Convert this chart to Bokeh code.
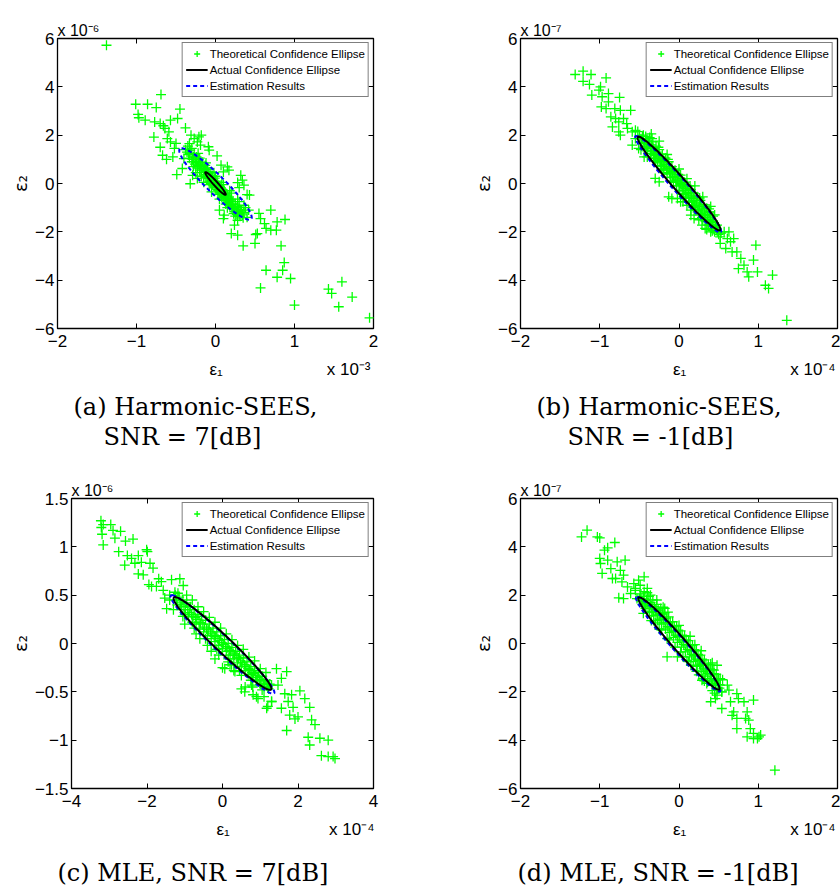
import numpy as np
from bokeh.plotting import figure
from bokeh.models import LinearAxis, FixedTicker, Legend, LegendItem, Range1d, Title
from bokeh.layouts import column, row
from bokeh.embed import file_html
from bokeh.resources import INLINE

# ---------------- data (eps1 in units of the x multiplier, eps2 in units of the y multiplier) ----------------
A_TAIL = [(-1.38,5.72),(-0.69,3.68),(-1.01,3.28),(-0.86,3.28),(-0.75,3.14),(-0.98,2.86),(-0.97,2.72),(-0.89,2.62),
          (-0.77,2.55),(-0.70,2.48),(-0.66,2.39),(-0.64,2.28),(-0.59,2.14),(-0.45,3.08),(-0.48,2.69),(-0.57,2.62),
          (-0.38,2.30),(-0.78,1.92),(-0.61,1.86),(-0.57,1.72),(-0.70,1.50),(-0.67,1.17),(-0.62,1.00),(-0.54,1.10),
          (-0.52,1.45),(-0.50,1.66),(-0.31,2.00),(-0.27,1.86),(-0.21,1.93),(-0.18,2.00),(-0.23,1.72),(-0.19,1.59),
          (-0.09,1.52),(-0.08,1.38),(-0.40,1.03),(-0.42,0.62),(-0.49,0.37),(-0.32,-0.01),(-0.29,0.34),(-0.23,0.21),
          (0.02,1.14),(0.07,0.76),(0.15,0.69),(0.17,0.55),(0.10,0.48),(0.32,0.34),(0.34,0.14),(0.28,0.04),
          (0.30,-0.17),(0.36,-0.07),(0.40,-0.46),(0.43,-0.48),(0.36,-0.90),(0.31,-1.17),(0.05,-1.10),(0.10,-1.45),
          (0.11,-1.31),(0.24,-1.17),(0.28,-1.52),(0.24,-1.72),(0.20,-2.07),(0.28,-2.14),(0.35,-2.58),(0.51,-2.11),
          (0.50,-2.48),(0.53,-2.07),(0.55,-1.24),(0.57,-1.45),(0.62,-1.66),(0.64,-1.86),(0.70,-1.10),(0.78,-1.59),
          (0.70,-1.93),(0.77,-1.93),(0.88,-1.49),(0.83,-2.58),(0.87,-3.27),(0.85,-3.59),(0.64,-3.59),(0.78,-3.88),
          (0.95,-3.93),(0.57,-4.32),(1.00,-5.03),(1.43,-4.37),(1.47,-4.55),(1.60,-4.07),(1.73,-4.70),(1.56,-5.10),
          (1.95,-5.56)]
A_CORE = [(-0.36,1.30),(-0.33,1.05),(-0.31,1.25),(-0.30,0.90),(-0.28,1.10),(-0.26,0.80),(-0.25,1.00),(-0.23,0.65),
          (-0.22,0.90),(-0.20,0.55),(-0.19,0.80),(-0.18,0.45),(-0.16,0.70),(-0.15,0.35),(-0.14,0.60),(-0.12,0.25),
          (-0.11,0.50),(-0.10,0.20),(-0.09,0.42),(-0.08,0.10),(-0.07,0.30),(-0.06,0.00),(-0.05,0.22),(-0.04,-0.05),
          (-0.03,0.15),(-0.02,-0.10),(-0.01,0.08),(0.00,-0.15),(0.01,0.02),(0.02,-0.25),(0.03,-0.05),(0.04,-0.30),
          (0.05,-0.10),(0.06,-0.38),(0.07,-0.18),(0.08,-0.45),(0.09,-0.25),(0.10,-0.55),(0.11,-0.30),(0.12,-0.60),
          (0.13,-0.40),(0.14,-0.70),(0.15,-0.48),(0.16,-0.78),(0.17,-0.55),(0.18,-0.85),(0.20,-0.65),(0.21,-0.95),
          (0.22,-0.75),(0.24,-1.05),(0.25,-0.85),(0.27,-1.15),(0.28,-0.95),(0.30,-1.25),(0.32,-1.10),(0.34,-1.30),
          (0.36,-1.20),(-0.20,1.05),(-0.10,0.65),(0.00,0.30),(0.10,-0.05),(0.20,-0.40),(-0.15,0.05),(-0.05,-0.35),
          (0.05,-0.65),(0.15,-1.00),(0.25,-1.35),(-0.25,0.45),(0.30,-0.75),(-0.30,1.45),(-0.35,1.55),(0.40,-1.40),
          (0.42,-1.10),
          (-0.38,1.40),(-0.34,1.20),(-0.32,1.38),(-0.29,1.00),(-0.27,1.22),(-0.24,0.88),(-0.24,1.10),(-0.21,0.75),
          (-0.21,0.98),(-0.18,0.62),(-0.17,0.88),(-0.15,0.52),(-0.13,0.75),(-0.12,0.38),(-0.10,0.58),(-0.08,0.28),
          (-0.07,0.48),(-0.05,0.10),(-0.04,0.32),(-0.02,0.02),(-0.01,0.22),(0.01,-0.12),(0.02,0.10),(0.04,-0.18),
          (0.05,-0.40),(0.07,-0.30),(0.08,-0.58),(0.10,-0.42),(0.12,-0.70),(0.13,-0.52),(0.15,-0.80),(0.16,-0.62),
          (0.18,-0.92),(0.19,-0.72),(0.21,-1.05),(0.22,-0.85),(0.24,-1.15),(0.26,-1.00),(0.27,-1.28),(0.29,-1.08),
          (0.31,-1.35),(0.33,-1.22),(0.35,-1.42),(-0.28,0.70),(-0.18,0.30),(-0.08,-0.05),(0.03,-0.45),(0.13,-0.85),
          (0.23,-1.25),(-0.33,1.65),(-0.22,1.25),(-0.12,0.85),(-0.02,0.45),(0.08,0.05),(0.18,-0.30),(0.28,-0.65),
          (0.38,-1.00)]

B_TAIL = [(-1.31,4.51),(-1.21,4.65),(-1.11,4.51),(-1.21,4.23),(-1.13,4.10),(-0.99,4.00),(-0.92,4.37),(-1.01,3.86),
          (-1.10,3.66),(-0.97,3.59),(-0.89,3.72),(-0.98,3.17),(-0.92,3.10),(-0.89,3.38),(-0.75,3.56),(-0.81,3.10),
          (-0.74,3.03),(-0.61,3.03),(-0.86,2.76),(-0.80,2.69),(-0.76,2.55),(-0.70,2.69),(-0.66,2.48),(-0.84,2.34),
          (-0.76,2.14),(-0.65,2.28),(-0.59,2.14),(-0.74,2.00),(-0.55,1.86),(-0.59,1.59),(-0.51,1.45),(-0.44,1.10),
          (-0.46,1.86),(-0.34,1.86),(-0.40,1.45),(-0.32,1.03),(-0.30,0.21),(-0.25,0.07),(-0.13,-0.55),(-0.09,-0.62),
          (-0.02,-0.62),(0.02,-0.76),(0.10,-0.90),(0.27,-1.31),(0.36,-1.52),(0.42,-1.59),(0.48,-1.72),(0.52,-2.21),
          (0.57,-2.00),(0.61,-2.28),(0.65,-2.41),(0.69,-2.28),(0.67,-2.83),(0.73,-2.83),(0.78,-3.10),(0.75,-3.52),
          (0.82,-3.38),(0.86,-3.66),(0.88,-3.86),(0.94,-3.17),(0.97,-2.55),(0.99,-3.66),(1.09,-4.21),(1.13,-4.34),
          (1.18,-3.79),(1.36,-5.66),(0.59,-2.69),(0.52,-2.48),(0.63,-2.00),(0.40,-2.00),(0.33,-1.86),(0.29,-1.72),
          (0.19,-1.45),(0.15,-1.31)]
B_CORE = [(-0.50,1.95),(-0.47,1.70),(-0.45,2.00),(-0.44,1.55),(-0.42,1.80),(-0.40,1.35),(-0.39,1.62),(-0.37,1.90),
          (-0.36,1.25),(-0.34,1.50),(-0.33,1.72),(-0.31,1.05),(-0.30,1.30),(-0.29,1.55),(-0.27,0.85),(-0.26,1.15),
          (-0.25,1.40),(-0.23,0.75),(-0.22,1.00),(-0.21,1.22),(-0.19,0.55),(-0.18,0.80),(-0.17,1.05),(-0.15,0.40),
          (-0.14,0.65),(-0.13,0.90),(-0.11,0.25),(-0.10,0.50),(-0.09,0.70),(-0.07,0.05),(-0.06,0.30),(-0.05,0.55),
          (-0.03,-0.10),(-0.02,0.15),(-0.01,0.38),(0.01,-0.30),(0.02,0.00),(0.03,0.20),(0.05,-0.45),(0.06,-0.15),
          (0.07,0.05),(0.09,-0.60),(0.10,-0.30),(0.11,-0.10),(0.13,-0.78),(0.14,-0.48),(0.15,-0.25),(0.17,-0.92),
          (0.18,-0.62),(0.19,-0.40),(0.21,-1.08),(0.22,-0.80),(0.23,-0.55),(0.25,-1.25),(0.26,-0.95),(0.27,-0.70),
          (0.29,-1.40),(0.30,-1.10),(0.31,-0.88),(0.33,-1.55),(0.34,-1.28),(0.35,-1.02),(0.37,-1.72),(0.38,-1.42),
          (0.39,-1.18),(0.41,-1.85),(0.42,-1.58),(0.43,-1.35),(0.45,-2.00),(0.46,-1.75),(0.48,-1.95),(0.50,-2.10),
          (-0.52,2.15),(-0.55,2.20),(0.53,-2.05),(-0.30,0.95),(-0.20,0.45),(0.05,-0.75),(0.15,-1.10),(0.25,-1.50),
          (0.35,-1.90),(-0.15,1.20),(0.00,0.60),(0.10,0.20),(0.20,-0.10),(-0.40,1.10),(-0.48,1.40),(0.30,-0.55),
          (0.40,-0.95),(0.45,-1.30),(-0.35,2.05),(-0.25,1.75),
          (-0.48,1.85),(-0.46,1.95),(-0.43,1.65),(-0.41,1.55),(-0.38,1.50),(-0.38,1.75),(-0.35,1.35),(-0.35,1.60),
          (-0.32,1.20),(-0.32,1.45),(-0.28,1.05),(-0.28,1.30),(-0.24,0.90),(-0.24,1.10),(-0.20,0.70),(-0.20,0.95),
          (-0.16,0.55),(-0.16,0.78),(-0.12,0.40),(-0.12,0.62),(-0.08,0.25),(-0.08,0.45),(-0.04,0.10),(-0.04,0.28),
          (0.00,-0.10),(0.00,0.12),(0.04,-0.28),(0.04,-0.05),(0.08,-0.42),(0.08,-0.20),(0.12,-0.60),(0.12,-0.38),
          (0.16,-0.75),(0.16,-0.52),(0.20,-0.92),(0.20,-0.70),(0.24,-1.10),(0.24,-0.85),(0.28,-1.25),(0.28,-1.02),
          (0.32,-1.40),(0.32,-1.18),(0.36,-1.58),(0.36,-1.32),(0.40,-1.72),(0.40,-1.50),(0.44,-1.88),(0.44,-1.62),
          (0.47,-1.82),(0.49,-2.00),(-0.30,1.15),(-0.22,0.60),(-0.10,0.10),(0.06,-0.55),(0.18,-1.00),(0.30,-1.50),
          (0.42,-1.95),(-0.42,1.95),(-0.26,1.50),(-0.14,1.00),(0.02,0.35),(0.14,-0.10),(0.26,-0.60),(0.38,-1.05)]

C_TAIL = [(-3.22,1.27),(-3.16,1.23),(-3.21,1.20),(-3.19,1.13),(-3.16,1.02),(-2.96,1.23),(-2.90,1.17),(-2.70,1.16),
          (-2.85,1.09),(-2.57,1.06),(-2.37,1.08),(-2.75,0.95),(-2.52,0.91),(-2.41,0.88),(-2.23,0.91),(-2.32,0.83),
          (-2.59,0.81),(-2.01,0.97),(-1.99,0.95),(-2.15,0.84),(-1.92,0.83),(-1.84,0.78),(-2.23,0.72),(-2.10,0.71),
          (-1.95,0.61),(-1.88,0.59),(-1.69,0.67),(-1.62,0.64),(-1.75,0.59),(-1.57,0.55),(-1.35,0.66),(-1.13,0.67),
          (-1.04,0.60),(-1.53,0.47),(-1.40,0.50),(-1.26,0.53),(-1.48,0.36),(1.43,-0.26),(1.56,-0.36),(1.70,-0.29),
          (1.30,-0.43),(1.47,-0.43),(1.65,-0.52),(1.83,-0.53),(2.05,-0.49),(2.18,-0.57),(1.74,-0.60),(1.87,-0.66),
          (1.78,-0.74),(2.00,-0.76),(1.92,-0.78),(1.56,-0.67),(1.70,-0.90),(2.31,-0.66),(2.36,-0.79),(2.45,-0.84),
          (2.27,-0.97),(2.31,-1.05),(2.58,-0.98),(2.80,-1.00),(2.62,-1.16),(2.80,-1.17),(2.98,-1.19),(2.93,-1.17),
          (0.94,-0.57),(1.17,-0.67),(1.30,-0.60),(0.81,-0.53),(0.59,-0.50),(0.50,-0.47),(0.77,-0.43),(0.33,-0.29),
          (0.24,-0.22),(0.15,-0.19),(-0.20,-0.16),(0.06,-0.26)]
C_CORE = [(-1.25,0.50),(-1.20,0.40),(-1.15,0.48),(-1.10,0.35),(-1.05,0.45),(-1.00,0.30),(-0.95,0.42),(-0.90,0.28),
          (-0.85,0.38),(-0.80,0.22),(-0.75,0.35),(-0.70,0.20),(-0.65,0.30),(-0.60,0.15),(-0.55,0.28),(-0.50,0.12),
          (-0.45,0.24),(-0.40,0.08),(-0.35,0.20),(-0.30,0.05),(-0.25,0.16),(-0.20,0.02),(-0.15,0.12),(-0.10,-0.02),
          (-0.05,0.08),(0.00,-0.05),(0.05,0.04),(0.10,-0.08),(0.15,0.00),(0.20,-0.12),(0.25,-0.04),(0.30,-0.16),
          (0.35,-0.08),(0.40,-0.20),(0.45,-0.12),(0.50,-0.24),(0.55,-0.15),(0.60,-0.28),(0.65,-0.19),(0.70,-0.32),
          (0.75,-0.24),(0.80,-0.35),(0.85,-0.28),(0.90,-0.38),(0.95,-0.30),(1.00,-0.42),(1.05,-0.34),(1.10,-0.45),
          (1.15,-0.38),(1.20,-0.46),(1.25,-0.42),(-1.00,0.20),(-0.70,0.10),(-0.40,-0.02),(-0.10,-0.12),(0.20,-0.22),
          (0.50,-0.33),(0.80,-0.45),(1.10,-0.55),(-0.80,0.45),(-0.50,0.33),(-0.20,0.22),(0.10,0.10),(0.40,-0.02),
          (0.70,-0.14),(1.00,-0.26),(-1.30,0.35),(-0.60,0.05),(0.00,-0.25),(0.60,-0.45),(1.30,-0.60),(-1.40,0.45),
          (0.30,-0.28),(-0.30,-0.08),(0.90,-0.55),(1.20,-0.65),
          (-1.22,0.45),(-1.18,0.52),(-1.12,0.42),(-1.08,0.40),(-1.02,0.38),(-0.98,0.35),(-0.92,0.35),(-0.88,0.32),
          (-0.82,0.30),(-0.78,0.28),(-0.72,0.27),(-0.68,0.25),(-0.62,0.22),(-0.58,0.21),(-0.52,0.20),(-0.48,0.17),
          (-0.42,0.15),(-0.38,0.14),(-0.32,0.12),(-0.28,0.10),(-0.22,0.08),(-0.18,0.07),(-0.12,0.05),(-0.08,0.03),
          (-0.02,0.01),(0.02,-0.01),(0.08,-0.03),(0.12,-0.05),(0.18,-0.07),(0.22,-0.08),(0.28,-0.10),(0.32,-0.12),
          (0.38,-0.14),(0.42,-0.15),(0.48,-0.18),(0.52,-0.20),(0.58,-0.22),(0.62,-0.24),(0.68,-0.26),(0.72,-0.27),
          (0.78,-0.30),(0.82,-0.31),(0.88,-0.33),(0.92,-0.35),(0.98,-0.37),(1.02,-0.39),(1.08,-0.41),(1.12,-0.42),
          (1.18,-0.44),(1.22,-0.47),(-1.05,0.28),(-0.75,0.16),(-0.45,0.05),(-0.15,-0.06),(0.15,-0.16),(0.45,-0.28),
          (0.75,-0.38),(1.05,-0.48),(-0.95,0.50),(-0.65,0.38),(-0.35,0.27),(-0.05,0.16),(0.25,0.04),(0.55,-0.06),
          (0.85,-0.18),(1.15,-0.30)]

D_TAIL = [(-1.23,4.41),(-1.16,4.69),(-1.03,4.41),(-1.00,4.37),(-0.90,3.96),(-0.81,4.18),(-0.94,3.86),(-1.00,3.52),
          (-0.99,3.31),(-0.90,3.45),(-0.78,3.38),(-0.68,3.45),(-0.97,2.90),(-0.86,3.10),(-0.84,2.69),(-0.74,3.03),
          (-0.70,2.83),(-0.80,2.69),(-0.72,2.55),(-0.65,2.34),(-0.57,2.48),(-0.55,2.28),(-0.51,2.62),(-0.44,2.76),
          (-0.49,2.41),(-0.61,2.07),(-0.76,1.89),(-0.70,1.86),(-0.40,2.28),(-0.36,2.00),(-0.53,1.86),(-0.44,1.66),
          (-0.42,1.45),(-0.34,1.31),(-0.23,1.24),(-0.18,1.45),(-0.15,-0.55),(-0.02,-0.55),(0.19,-0.48),(0.27,-0.90),
          (0.33,-1.17),(0.44,-1.10),(0.48,-0.90),(0.50,-1.45),(0.52,-1.72),(0.61,-1.72),(0.63,-1.93),(0.54,-2.00),
          (0.48,-2.14),(0.40,-2.41),(0.46,-2.28),(0.54,-2.69),(0.65,-2.41),(0.73,-2.07),(0.75,-2.28),(0.67,-2.97),
          (0.73,-3.10),(0.69,-2.83),(0.73,-3.52),(0.82,-2.41),(0.86,-2.83),(0.84,-3.10),(0.88,-3.17),(0.94,-2.34),
          (0.90,-3.52),(0.86,-3.86),(0.94,-3.72),(1.01,-3.86),(1.03,-3.79),(0.99,-3.93),(0.94,-3.93),(1.21,-5.24),
          (0.29,-1.52),(0.36,-1.59),(0.42,-1.72)]
D_CORE = [(-0.50,1.85),(-0.48,2.05),(-0.46,1.60),(-0.44,1.85),(-0.42,1.45),(-0.40,1.70),(-0.38,1.95),(-0.37,1.30),
          (-0.35,1.55),(-0.33,1.80),(-0.32,1.15),(-0.30,1.40),(-0.28,1.62),(-0.27,0.95),(-0.25,1.20),(-0.23,1.45),
          (-0.22,0.80),(-0.20,1.05),(-0.18,1.28),(-0.17,0.60),(-0.15,0.85),(-0.13,1.10),(-0.12,0.45),(-0.10,0.68),
          (-0.08,0.90),(-0.07,0.25),(-0.05,0.50),(-0.03,0.72),(-0.02,0.05),(0.00,0.30),(0.02,0.52),(0.03,-0.15),
          (0.05,0.10),(0.07,0.32),(0.08,-0.35),(0.10,-0.10),(0.12,0.12),(0.13,-0.55),(0.15,-0.30),(0.17,-0.08),
          (0.18,-0.75),(0.20,-0.50),(0.22,-0.28),(0.23,-0.95),(0.25,-0.70),(0.27,-0.48),(0.28,-1.15),(0.30,-0.90),
          (0.32,-0.68),(0.33,-1.35),(0.35,-1.10),(0.37,-0.88),(0.38,-1.55),(0.40,-1.30),(0.42,-1.08),(0.43,-1.72),
          (0.45,-1.50),(0.47,-1.28),(0.48,-1.90),(0.50,-1.70),(0.52,-1.45),(0.54,-2.00),(-0.45,1.25),(-0.35,0.95),
          (-0.25,0.60),(-0.15,0.20),(-0.05,-0.15),(0.05,-0.55),(0.15,-0.90),(0.25,-1.30),(0.35,-1.65),(0.45,-2.05),
          (-0.40,2.10),(-0.20,1.50),(0.00,0.75),(0.20,-0.05),(0.40,-0.85),(0.55,-1.50),(-0.55,2.20),(0.10,-0.70),
          (-0.30,0.85),(0.30,-1.45),
          (-0.49,1.95),(-0.47,1.75),(-0.45,1.95),(-0.43,1.55),(-0.41,1.80),(-0.39,1.45),(-0.36,1.70),(-0.34,1.30),
          (-0.31,1.52),(-0.29,1.15),(-0.26,1.38),(-0.24,1.00),(-0.21,1.22),(-0.19,0.85),(-0.16,1.05),(-0.14,0.70),
          (-0.11,0.90),(-0.09,0.52),(-0.06,0.72),(-0.04,0.35),(-0.01,0.55),(0.01,0.15),(0.04,0.35),(0.06,-0.05),
          (0.09,0.15),(0.11,-0.25),(0.14,-0.05),(0.16,-0.45),(0.19,-0.25),(0.21,-0.65),(0.24,-0.45),(0.26,-0.85),
          (0.29,-0.65),(0.31,-1.05),(0.34,-0.85),(0.36,-1.25),(0.39,-1.05),(0.41,-1.45),(0.44,-1.25),(0.46,-1.65),
          (0.49,-1.50),(0.51,-1.85),(-0.32,0.95),(-0.22,0.55),(-0.12,0.15),(0.02,-0.35),(0.12,-0.75),(0.22,-1.15),
          (0.32,-1.55),(0.42,-1.95),(-0.44,2.15),(-0.28,1.80),(-0.14,1.30),(0.14,0.30),(0.28,-0.30),(0.42,-0.80)]

# ellipses: center (cx, cy), major-axis tip (tx, ty), horizontal half-width through the center (w)
A_ACTUAL = dict(cx=0.0, cy=0.0, tx=-0.125, ty=0.47, w=0.035)
A_EST = dict(cx=0.0, cy=-0.02, tx=-0.43, ty=1.48, w=0.16)
B_ACTUAL = dict(cx=0.0, cy=0.0, tx=-0.51, ty=1.94, w=0.11)
B_EST = dict(cx=-0.01, cy=-0.03, tx=-0.53, ty=2.00, w=0.115)
C_ACTUAL = dict(cx=0.0, cy=0.0, tx=-1.26, ty=0.48, w=0.30)
C_EST = dict(cx=0.0, cy=-0.01, tx=-1.34, ty=0.51, w=0.31)
D_ACTUAL = dict(cx=0.0, cy=0.0, tx=-0.50, ty=1.91, w=0.11)
D_EST = dict(cx=-0.01, cy=-0.03, tx=-0.52, ty=1.96, w=0.115)

XT_AB = [-2, -1, 0, 1, 2]
YT_ABD = [-6, -4, -2, 0, 2, 4, 6]
XT_C = [-4, -2, 0, 2, 4]
YT_C = [-1.5, -1, -0.5, 0, 0.5, 1, 1.5]

LEGEND_LABELS = ["Theoretical Confidence Ellipse", "Actual Confidence Ellipse", "Estimation Results"]

SANS = "Liberation Sans"
SERIF = "DejaVu Serif"
NBSP = "\u00a0"


def tick_text(v):
    s = ("%g" % abs(v))
    return ("\u2212" + s) if v < 0 else s


def ellipse_xy(e, n=240):
    t = np.linspace(0, 2 * np.pi, n)
    return (e["cx"] + e["tx"] * np.cos(t) + e["w"] * np.sin(t),
            e["cy"] + e["ty"] * np.cos(t))


def style_axis(ax, ticks, show_labels=True):
    ax.ticker = FixedTicker(ticks=ticks)
    ax.major_tick_in = 5
    ax.major_tick_out = 0
    ax.minor_tick_in = 0
    ax.minor_tick_out = 0
    ax.major_tick_line_color = "black"
    ax.axis_line_color = None
    if show_labels:
        ax.major_label_overrides = {v: tick_text(v) for v in ticks}
        ax.major_label_text_font = SANS
        ax.major_label_text_font_size = "17px"
        ax.major_label_text_color = "black"
    else:
        ax.major_label_overrides = {v: "" for v in ticks}
        ax.major_label_text_font_size = "0px"
        ax.major_label_standoff = 0


def title(text, size, font=SANS, align="left", offset=0, valign="top", standoff=0):
    return Title(text=text, align=align, offset=offset, vertical_align=valign, standoff=standoff,
                 text_font=font, text_font_size=size, text_font_style="normal", text_color="black")


def spacer(h):
    return Title(text=NBSP, text_font_size="1px", standoff=max(h - 3, 0))


def panel(tail, core, actual, est, xr, yr, xt, yt, fw, bl, br, bt, bb, ymult, xmult, nb, gap, captions):
    p = figure(frame_width=fw, frame_height=290, min_border_left=bl, min_border_right=br,
               min_border_top=bt, min_border_bottom=bb, x_range=Range1d(*xr), y_range=Range1d(*yr),
               output_backend="svg", toolbar_location=None, tools="", title=None)
    p.grid.visible = False
    p.outline_line_color = "black"
    p.outline_line_width = 1.3
    p.background_fill_color = "white"
    p.border_fill_color = "white"

    style_axis(p.xaxis[0], xt)
    style_axis(p.yaxis[0], yt)
    p.xaxis[0].major_label_standoff = 6
    p.yaxis[0].major_label_standoff = 3
    p.yaxis[0].axis_label = "\u03b5\u2082"
    p.yaxis[0].axis_label_text_font = "DejaVu Sans"
    p.yaxis[0].axis_label_text_font_style = "normal"
    p.yaxis[0].axis_label_text_font_size = "18px"
    p.yaxis[0].axis_label_text_color = "black"
    p.yaxis[0].axis_label_standoff = 1

    top = LinearAxis()
    style_axis(top, xt, show_labels=False)
    p.add_layout(top, "above")
    right = LinearAxis()
    style_axis(right, yt, show_labels=False)
    p.add_layout(right, "right")

    # multiplier of the y axis, above the top-left corner
    p.add_layout(title("x 10" + ymult, "16px", valign="bottom"), "above")

    # x label and x multiplier on one line, then the caption
    p.add_layout(spacer(10), "below")
    p.add_layout(title("\u03b5\u2081" + NBSP * nb + "x 10" + xmult, "17px", offset=fw / 2 - 6), "below")
    p.add_layout(spacer(gap), "below")
    for (off, txt) in captions:
        p.add_layout(title(txt, "24px", font=SERIF, offset=off), "below")

    pts = tail + core
    sc = p.scatter([q[0] for q in pts], [q[1] for q in pts], marker="cross", size=10,
                   line_color="#00ff00", line_width=1.3)
    ex, ey = ellipse_xy(est)
    bl_r = p.line(ex, ey, line_color="#0000ff", line_width=2, line_dash="4 3")
    ax_, ay_ = ellipse_xy(actual)
    bk_r = p.line(ax_, ay_, line_color="black", line_width=2)

    leg = Legend(items=[LegendItem(label=LEGEND_LABELS[0], renderers=[sc]),
                        LegendItem(label=LEGEND_LABELS[1], renderers=[bk_r]),
                        LegendItem(label=LEGEND_LABELS[2], renderers=[bl_r])],
                 location="top_right")
    leg.border_line_color = "black"
    leg.border_line_width = 1.5
    leg.background_fill_color = "white"
    leg.background_fill_alpha = 1.0
    leg.label_text_font = SANS
    leg.label_text_font_size = "11.5px"
    leg.label_text_color = "black"
    leg.glyph_width = 22
    leg.glyph_height = 15
    leg.label_height = 15
    leg.label_standoff = 2
    leg.padding = 3
    leg.spacing = 1
    leg.margin = 4
    p.add_layout(leg)
    return p


pa = panel(A_TAIL, A_CORE, A_ACTUAL, A_EST, (-2, 2), (-6, 6), XT_AB, YT_ABD, 316, 57, 47, 38, 132,
           "\u207b\u2076", "\u207b\u00b3", 22, 12, [(16, "(a) Harmonic-SEES,"), (46, "SNR = 7[dB]")])
pb = panel(B_TAIL, B_CORE, B_ACTUAL, B_EST, (-2, 2), (-6, 6), XT_AB, YT_ABD, 317, 100, 3, 38, 132,
           "\u207b\u2077", "\u207b\u2074", 22, 12, [(16, "(b) Harmonic-SEES,"), (47, "SNR = -1[dB]")])
pc = panel(C_TAIL, C_CORE, C_ACTUAL, C_EST, (-4, 4), (-1.5, 1.5), XT_C, YT_C, 302, 71, 47, 38, 105,
           "\u207b\u2076", "\u207b\u2074", 21, 18, [(-14, "(c) MLE, SNR = 7[dB]")])
pd = panel(D_TAIL, D_CORE, D_ACTUAL, D_EST, (-2, 2), (-6, 6), XT_AB, YT_ABD, 317, 100, 3, 38, 105,
           "\u207b\u2077", "\u207b\u2074", 22, 18, [(-3, "(d) MLE, SNR = -1[dB]")])

layout = column(row(pa, pb), row(pc, pd))
open("out.html", "w").write(file_html(layout, INLINE))
